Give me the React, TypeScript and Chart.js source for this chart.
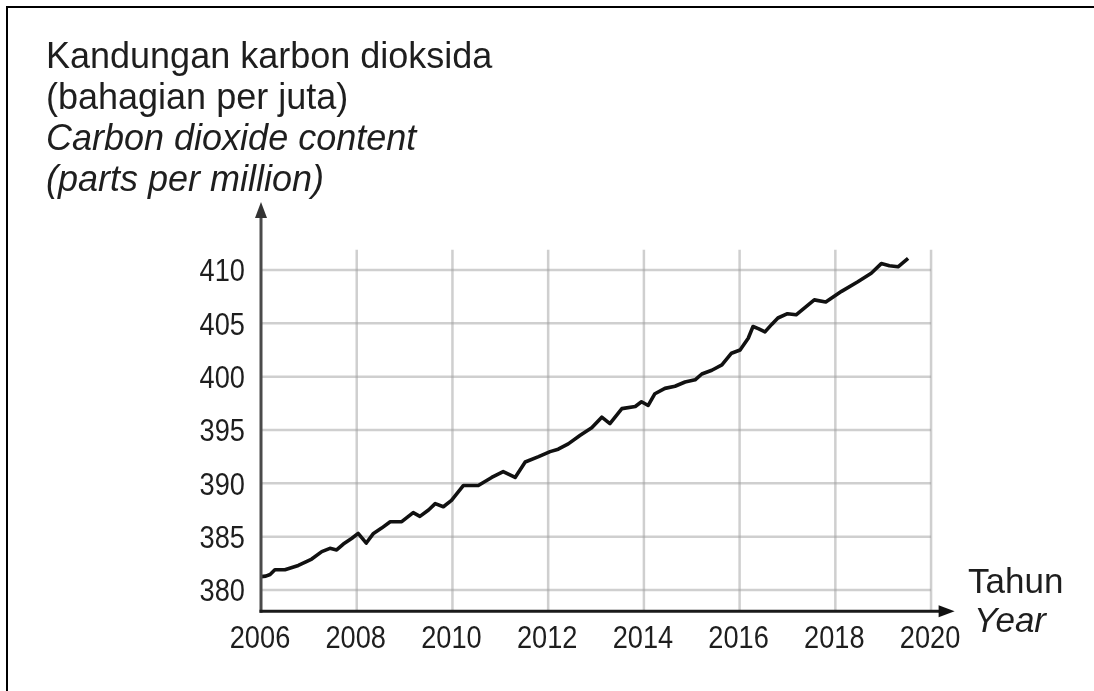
import React, { useEffect, useRef } from "react";
import { Chart, registerables } from "chart.js";

Chart.register(...registerables);

// ---- data ----
const years: number[] = [
  2006.0, 2006.1, 2006.19, 2006.29, 2006.5, 2006.78, 2007.06, 2007.27, 2007.44, 2007.58,
  2007.72, 2007.9, 2008.03, 2008.2, 2008.35, 2008.52, 2008.7, 2008.94, 2009.18, 2009.32,
  2009.5, 2009.64, 2009.81, 2009.98, 2010.23, 2010.54, 2010.82, 2011.06, 2011.31, 2011.52,
  2011.8, 2012.04, 2012.21, 2012.42, 2012.67, 2012.91, 2013.12, 2013.29, 2013.54, 2013.82,
  2013.95, 2014.09, 2014.23, 2014.44, 2014.65, 2014.86, 2015.07, 2015.21, 2015.42, 2015.63,
  2015.83, 2016.01, 2016.18, 2016.28, 2016.39, 2016.53, 2016.67, 2016.8, 2017.0, 2017.18,
  2017.56, 2017.8, 2018.13, 2018.47, 2018.75, 2018.96, 2019.13, 2019.31, 2019.52,
];
const co2: number[] = [
  381.25, 381.3, 381.45, 381.9, 381.9, 382.3, 382.9, 383.6, 383.9, 383.75,
  384.3, 384.85, 385.3, 384.4, 385.3, 385.8, 386.4, 386.4, 387.25, 386.9,
  387.5, 388.1, 387.8, 388.4, 389.8, 389.8, 390.55, 391.1, 390.55, 392.0,
  392.5, 392.97, 393.2, 393.7, 394.5, 395.2, 396.2, 395.6, 397.0, 397.2,
  397.65, 397.3, 398.4, 398.9, 399.1, 399.5, 399.7, 400.25, 400.6, 401.1,
  402.2, 402.5, 403.6, 404.7, 404.5, 404.2, 404.9, 405.5, 405.9, 405.8,
  407.2, 407.0, 408.0, 408.9, 409.7, 410.6, 410.4, 410.3, 411.1,
];
const yTicks: number[] = [380, 385, 390, 395, 400, 405, 410];
const xTicks: number[] = [2006, 2008, 2010, 2012, 2014, 2016, 2018, 2020];
const yTitleLines: string[] = [
  "Kandungan karbon dioksida",
  "(bahagian per juta)",
  "Carbon dioxide content",
  "(parts per million)",
];
const yTitleItalic: boolean[] = [false, false, true, true];
const xTitleLines: string[] = ["Tahun", "Year"];
const xTitleItalic: boolean[] = [false, true];

const X_MIN = 2006;
const X_MAX = 2020.45;
const Y_MIN = 378;
const Y_MAX = 416;
const GRID_TOP_VALUE = 411.9;

const SANS = '"Liberation Sans", Arial, Helvetica, sans-serif';
const TICK_SCALE_X = 0.85;
const TICK_FONT = `32px ${SANS}`;

function drawNarrow(ctx: any, text: string, x: number, y: number, align: "center" | "right") {
  ctx.save();
  ctx.font = TICK_FONT;
  const w = ctx.measureText(text).width * TICK_SCALE_X;
  const left = align === "center" ? x - w / 2 : x - w;
  ctx.translate(left, y);
  ctx.scale(TICK_SCALE_X, 1);
  ctx.textAlign = "left";
  ctx.textBaseline = "alphabetic";
  ctx.fillText(text, 0, 0);
  ctx.restore();
}

const decorPlugin = {
  id: "decor",
  beforeDraw(chart: any) {
    const ctx = chart.ctx;
    ctx.save();
    ctx.fillStyle = "#ffffff";
    ctx.fillRect(0, 0, chart.width, chart.height);
    ctx.restore();
  },
  beforeDatasetsDraw(chart: any) {
    const ctx = chart.ctx;
    const xs = chart.scales.x;
    const ys = chart.scales.y;
    const x0 = xs.getPixelForValue(X_MIN);
    const x1 = xs.getPixelForValue(2020);
    const yBottom = ys.getPixelForValue(Y_MIN);
    const yGridTop = ys.getPixelForValue(GRID_TOP_VALUE);
    ctx.save();
    ctx.strokeStyle = "rgba(160,160,160,0.5)";
    ctx.lineWidth = 2.5;
    for (const v of yTicks) {
      const y = ys.getPixelForValue(v);
      ctx.beginPath();
      ctx.moveTo(x0, y);
      ctx.lineTo(x1, y);
      ctx.stroke();
    }
    for (const v of xTicks) {
      if (v === X_MIN) continue;
      const x = xs.getPixelForValue(v);
      ctx.beginPath();
      ctx.moveTo(x, yGridTop);
      ctx.lineTo(x, yBottom);
      ctx.stroke();
    }
    ctx.restore();
  },
  afterDatasetsDraw(chart: any) {
    const ctx = chart.ctx;
    const xs = chart.scales.x;
    const ys = chart.scales.y;
    const ax = xs.getPixelForValue(X_MIN);
    const ay = ys.getPixelForValue(Y_MIN);
    const topY = ys.getPixelForValue(Y_MAX);
    const rightX = xs.getPixelForValue(X_MAX);
    ctx.save();
    // y axis
    ctx.strokeStyle = "#4a4a4a";
    ctx.lineWidth = 3;
    ctx.beginPath();
    ctx.moveTo(ax, ay + 1.5);
    ctx.lineTo(ax, topY + 8);
    ctx.stroke();
    ctx.fillStyle = "#333333";
    ctx.beginPath();
    ctx.moveTo(ax, topY - 4);
    ctx.lineTo(ax - 6, topY + 12);
    ctx.lineTo(ax + 6, topY + 12);
    ctx.closePath();
    ctx.fill();
    // x axis
    ctx.strokeStyle = "#1a1a1a";
    ctx.beginPath();
    ctx.moveTo(ax - 1.5, ay);
    ctx.lineTo(rightX - 8, ay);
    ctx.stroke();
    ctx.fillStyle = "#111111";
    ctx.beginPath();
    ctx.moveTo(rightX + 2, ay);
    ctx.lineTo(rightX - 14, ay - 6);
    ctx.lineTo(rightX - 14, ay + 6);
    ctx.closePath();
    ctx.fill();
    ctx.restore();
  },
  afterDraw(chart: any) {
    const ctx = chart.ctx;
    const xs = chart.scales.x;
    const ys = chart.scales.y;
    ctx.save();
    ctx.fillStyle = "#1e1e1e";
    // tick labels, positioned by the chart's scales
    for (const t of ys.ticks) {
      drawNarrow(ctx, String(t.value), xs.left - 16, ys.getPixelForValue(t.value) + 11.5, "right");
    }
    for (const t of xs.ticks) {
      drawNarrow(ctx, String(t.value), xs.getPixelForValue(t.value) - 1, 648, "center");
    }
    ctx.textAlign = "left";
    ctx.textBaseline = "alphabetic";
    const baselines = [68, 109, 150, 191];
    yTitleLines.forEach((t, i) => {
      ctx.font = `${yTitleItalic[i] ? "italic " : ""}36px ${SANS}`;
      ctx.fillText(t, 46, baselines[i]);
    });
    const xb = [593, 632];
    const xx = [968, 974];
    xTitleLines.forEach((t, i) => {
      ctx.font = `${xTitleItalic[i] ? "italic " : ""}35px ${SANS}`;
      ctx.fillText(t, xx[i], xb[i]);
    });
    // outer frame
    ctx.strokeStyle = "#000000";
    ctx.lineWidth = 2;
    ctx.beginPath();
    ctx.moveTo(7, chart.height);
    ctx.lineTo(7, 7);
    ctx.lineTo(chart.width, 7);
    ctx.stroke();
    ctx.restore();
  },
};

export default function App() {
  const canvasRef = useRef<HTMLCanvasElement | null>(null);

  useEffect(() => {
    const canvas = canvasRef.current;
    if (!canvas) return;
    const chart = new Chart(canvas, {
      type: "line",
      data: {
        datasets: [
          {
            label: "CO2",
            data: years.map((x, i) => ({ x, y: co2[i] })),
            borderColor: "#111111",
            borderWidth: 3.6,
            pointRadius: 0,
            tension: 0,
            fill: false,
            borderJoinStyle: "round",
          },
        ],
      },
      options: {
        animation: false,
        responsive: true,
        maintainAspectRatio: false,
        layout: { padding: { left: 0, top: 206, right: 1094 - 952.6, bottom: 691 - 611.3 - 60 } },
        plugins: {
          legend: { display: false },
          tooltip: { enabled: false },
          title: { display: false },
        },
        scales: {
          x: {
            type: "linear",
            min: X_MIN,
            max: X_MAX,
            afterBuildTicks: (scale: any) => {
              scale.ticks = xTicks.map((v) => ({ value: v }));
            },
            afterFit: (scale: any) => {
              scale.height = 60;
            },
            ticks: { display: false, autoSkip: false, maxRotation: 0 },
            grid: { display: false, drawTicks: false },
            border: { display: false },
          },
          y: {
            type: "linear",
            min: Y_MIN,
            max: Y_MAX,
            afterBuildTicks: (scale: any) => {
              scale.ticks = yTicks.map((v) => ({ value: v }));
            },
            afterFit: (scale: any) => {
              scale.width = 261;
            },
            ticks: { display: false, autoSkip: false },
            grid: { display: false, drawTicks: false },
            border: { display: false },
          },
        },
      },
      plugins: [decorPlugin],
    });
    return () => chart.destroy();
  }, []);

  return (
    <div style={{ position: "absolute", left: 0, top: 0, width: 1094, height: 691, background: "#fff" }}>
      <canvas ref={canvasRef} />
    </div>
  );
}
